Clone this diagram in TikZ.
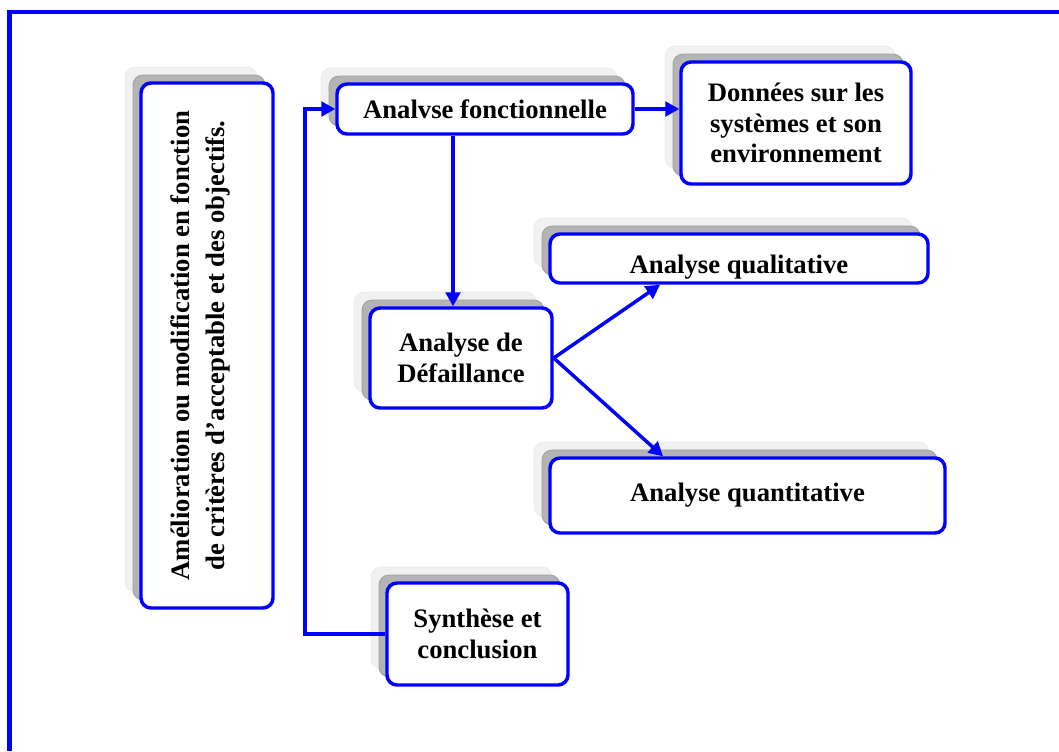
\documentclass[tikz,border=0pt]{standalone}
\usepackage{fontspec}
\setmainfont{Liberation Serif}
\usetikzlibrary{arrows.meta,shadows}
\definecolor{frameblue}{RGB}{0,0,255}
\definecolor{shadowdark}{RGB}{180,180,180}
\definecolor{shadowlight}{RGB}{241,241,241}
\tikzset{
  box/.style={draw=frameblue, line width=2.6pt, rounded corners=7.5pt, fill=white,
    align=center, inner sep=0pt,
    font=\bfseries\fontsize{20}{23}\selectfont,
    general shadow={fill=shadowlight, draw=black!8, line width=0.5pt,
      shadow xshift=-12pt, shadow yshift=12pt},
    general shadow={fill=shadowdark, draw=black!38, line width=0.6pt,
      shadow xshift=-6pt, shadow yshift=6pt}},
  link/.style={draw=frameblue, line width=2.6pt,
    -{Triangle[length=10.5pt,width=11pt]}},
}
\begin{document}
\begin{tikzpicture}[x=0.75pt,y=-0.75pt]
  \useasboundingbox (0,0) rectangle (1059,751);
  % page frame (only the top and left edges are inside the sheet)
  \draw[frameblue, line width=3.4pt] (9.5,751) |- (1059,12);

  % boxes
  \node[box, minimum width=99pt, minimum height=393.75pt] (amel) at (207,345.5) {};
  \node[rotate=90, align=center, font=\bfseries\fontsize{20}{26}\selectfont]
    (ameltext) at ([xshift=-5pt]amel.center)
    {Amélioration ou modification en fonction\\de critères d’acceptable et des objectifs.};
  \node[box, minimum width=222pt, minimum height=37.5pt] (fonc) at (485,109) {Analvse fonctionnelle};
  \node[box, minimum width=172.5pt, minimum height=91.5pt] (donn) at (796,123)
    {Données sur les\\systèmes et son\\environnement};
  \node[box, minimum width=136.5pt, minimum height=75pt] (def) at (461,358)
    {Analyse de\\Défaillance};
  \node[box, minimum width=283.5pt, minimum height=36.75pt] (qual) at (739,258.5)
    {\raisebox{-11pt}[0pt][0pt]{Analyse qualitative}};
  \node[box, minimum width=296.25pt, minimum height=56.25pt] (quant) at (747.5,495.5)
    {Analyse quantitative};
  \node[box, minimum width=135.75pt, minimum height=76.5pt] (syn) at (477.5,634)
    {Synthèse et\\conclusion};

  % connectors
  \coordinate (fb) at (305,109);
  \draw[link] (syn.west) -| (fb) -- (fonc.west);
  \draw[link] (fonc.east) -- (donn.west |- fonc.east);
  \draw[link] ([xshift=-24pt]fonc.south) -- ([xshift=-24pt]fonc.south |- def.north);
  \draw[link] (def.east) -- ([xshift=-59.25pt]qual.south);
  \draw[link] (def.east) -- ([xshift=-63.4pt]quant.north);
\end{tikzpicture}
\end{document}
